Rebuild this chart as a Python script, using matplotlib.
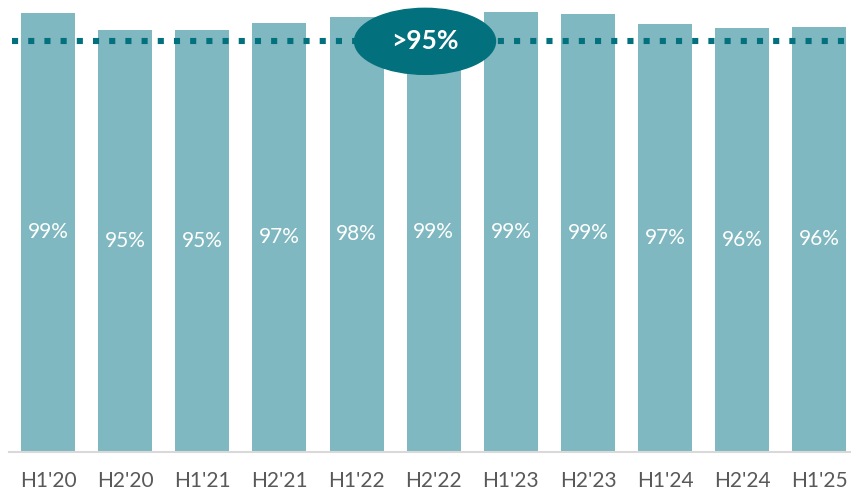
import matplotlib.pyplot as plt
from matplotlib.patches import Ellipse

# half-year periods and the share reached in each
periods = ["H1'20", "H2'20", "H1'21", "H2'21", "H1'22", "H2'22",
           "H1'23", "H2'23", "H1'24", "H2'24", "H1'25"]
shares = [99.3, 95.4, 95.3, 97.0, 98.2, 99.2, 99.4, 98.9, 96.7, 95.9, 96.0]
target_level = 92.8
target_text = ">95%"

bar_color = '#7FB8C0'
dark_teal = '#03717D'
grey_text = '#595959'

plt.rcParams['font.family'] = ['Lato', 'DejaVu Sans']

W, H = 851, 492
fig = plt.figure(figsize=(W / 100, H / 100), dpi=100)
ax = fig.add_axes([9.4 / W, 40.5 / H, 848.6 / W, 451.5 / H])

x = range(len(periods))
ax.bar(x, shares, width=0.70, color=bar_color, edgecolor='none', zorder=2)

# value labels in the middle of each bar
for i, v in enumerate(shares):
    ax.text(i, v / 2, f"{v:.0f}%", ha='center', va='center',
            color='white', fontsize=15, zorder=3)

# dotted target line with the badge on top
ax.plot([-0.47, 10.5], [target_level, target_level], color=dark_teal,
        linewidth=4.4, dashes=(1, 1.65), dash_capstyle='butt',
        solid_capstyle='butt', zorder=4)

ax.set_xlim(-0.5, 10.5)
ax.set_ylim(0, 102.15)

ex = (425 - 9.4) / 848.6 * 11 - 0.5
ell = Ellipse((ex, target_level), width=141 / 848.6 * 11, height=66 / 4.42,
              color=dark_teal, zorder=5)
ax.add_patch(ell)
ax.text(ex, target_level, target_text, ha='center', va='center',
        color='white', fontsize=19, fontweight='bold', zorder=6)

# category axis
ax.set_xticks(list(x))
ax.set_xticklabels(periods, fontsize=15, color=grey_text)
ax.tick_params(axis='x', length=0, pad=14)
ax.set_yticks([])
for side in ['top', 'right', 'left']:
    ax.spines[side].set_visible(False)
ax.spines['bottom'].set_color('#D9D9D9')
ax.spines['bottom'].set_linewidth(1.5)

fig.savefig('out.png', dpi=100)
